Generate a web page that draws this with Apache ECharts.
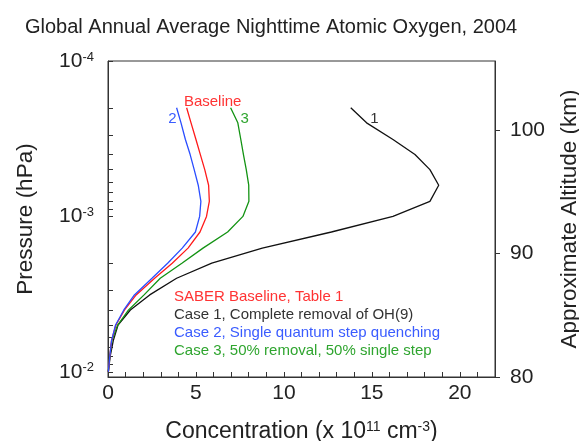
<!DOCTYPE html>
<html>
<head>
<meta charset="utf-8">
<script src="https://cdn.jsdelivr.net/npm/echarts@6/dist/echarts.min.js"></script>
<style>
    html, body { margin: 0; padding: 0; background: #fff; }
    #chart { width: 579px; height: 441px; }
</style>
</head>
<body>
<div id="chart"></div>
<script>
    // pressure levels (hPa) shared by all curves
    var pressure = [2.0e-4, 2.5e-4, 3.2e-4, 4.0e-4, 5.0e-4, 6.3e-4, 8.0e-4, 1.0e-3, 1.26e-3, 1.6e-3,
        2.0e-3, 2.5e-3, 3.2e-3, 4.0e-3, 5.0e-3, 6.3e-3, 8.0e-3, 1.0e-2];
    // concentration, x 10^11 cm^-3
    var baseline = [4.47, 4.72, 5.0, 5.25, 5.5, 5.72, 5.76, 5.6, 5.23, 4.55, 3.65, 2.65, 1.6, 0.94, 0.45, 0.2, 0.1, 0.02];
    var case1 = [13.8, 14.7, 16.2, 17.45, 18.3, 18.8, 18.3, 16.2, 12.7, 8.77, 5.9, 3.9, 2.37, 1.27, 0.57, 0.3, 0.12, 0.02];
    var case2 = [3.9, 4.15, 4.4, 4.67, 4.9, 5.13, 5.28, 5.21, 4.97, 4.22, 3.39, 2.5, 1.5, 0.9, 0.43, 0.2, 0.1, 0.02];
    var case3 = [6.97, 7.38, 7.55, 7.7, 7.86, 8.0, 8.01, 7.67, 6.8, 5.4, 4.2, 2.97, 2.05, 1.17, 0.55, 0.22, 0.1, 0.02];

    var xLabels = [0, 5, 10, 15, 20];
    var pressureDecades = [-4, -3, -2];
    var altTicks = [80, 90, 100];
    var minorSteps = [1, 2, 3, 4, 5, 6, 7, 8, 9];

    var FONT = 'Liberation Sans, Arial, Helvetica, sans-serif';
    var AXIS = '#333';
    // pressure axis runs in log10 space, top 10^-4 down to ~1.08 x 10^-2
    var yTop = -4, yBottom = Math.log10(1.08e-2);

    function pairs(xs) {
        return xs.map(function (v, i) { return [v, Math.log10(pressure[i])]; });
    }

    // tick marks at 1..9 x 10^n plus 10^-2
    var pTicks = [];
    [-4, -3].forEach(function (d) {
        minorSteps.forEach(function (m) { pTicks.push(d + Math.log10(m)); });
    });
    pTicks.push(-2);

    function tag(text, coord, color) {
        return {
            symbol: 'circle', symbolSize: 0, silent: true,
            label: { show: true, position: 'inside', formatter: text, color: color, fontSize: 15, fontFamily: FONT },
            data: [{ coord: [coord[0], Math.log10(coord[1])] }]
        };
    }

    function line(name, xs, color, label) {
        return {
            name: name, type: 'line', data: pairs(xs),
            showSymbol: false, symbol: 'none',
            color: color,
            lineStyle: { color: color, width: 1.3 },
            markPoint: label
        };
    }

    var chart = echarts.init(document.getElementById('chart'));

    chart.setOption({
        animation: false,
        title: {
            text: 'Global Annual Average Nighttime Atomic Oxygen, 2004',
            left: 20, top: 12,
            textStyle: { fontSize: 20, fontWeight: 'normal', color: '#222', fontFamily: FONT }
        },
        legend: {
            orient: 'vertical', left: 169, top: 289, padding: 0,
            itemWidth: 0, itemHeight: 0, itemGap: 3, icon: 'rect',
            selectedMode: false,
            textStyle: { fontSize: 15, fontFamily: FONT },
            data: [
                { name: 'SABER Baseline, Table 1', textStyle: { color: '#ff3333' } },
                { name: 'Case 1, Complete removal of OH(9)', textStyle: { color: '#333' } },
                { name: 'Case 2, Single quantum step quenching', textStyle: { color: '#3a5cff' } },
                { name: 'Case 3, 50% removal, 50% single step', textStyle: { color: '#2fa52f' } }
            ]
        },
        grid: {
            left: 108, right: 84, top: 61, bottom: 64,
            outerBoundsMode: 'none', containLabel: false,
            show: true, borderColor: AXIS, borderWidth: 1, backgroundColor: 'transparent'
        },
        xAxis: {
            type: 'value', position: 'bottom', min: 0, max: 22, interval: 1,
            name: '{a|Concentration (x 10}{s|11}{a| cm}{s|-3}{a|)}',
            nameLocation: 'middle', nameGap: 43,
            nameTextStyle: {
                rich: {
                    a: { fontSize: 23, color: '#222', fontFamily: FONT, verticalAlign: 'bottom' },
                    s: { fontSize: 14, color: '#222', fontFamily: FONT, verticalAlign: 'top' }
                }
            },
            axisLine: { show: true, onZero: false, lineStyle: { color: AXIS } },
            axisTick: { show: true, inside: true, length: 5, lineStyle: { color: AXIS } },
            axisLabel: { customValues: xLabels, margin: 6, fontSize: 21, color: '#222', fontFamily: FONT },
            splitLine: { show: false }
        },
        yAxis: [
            {
                type: 'value', position: 'left', inverse: true, min: yTop, max: yBottom,
                name: 'Pressure (hPa)', nameLocation: 'middle', nameGap: 71,
                nameTextStyle: { fontSize: 22.5, color: '#222', fontFamily: FONT },
                axisLine: { show: true, onZero: false, lineStyle: { color: AXIS } },
                axisTick: { show: true, inside: true, length: 5, customValues: pTicks, lineStyle: { color: AXIS } },
                axisLabel: {
                    customValues: pressureDecades,
                    margin: 14,
                    formatter: function (v) { return '{b|10}{s|' + Math.round(v) + '}'; },
                    rich: {
                        b: { fontSize: 21, color: '#222', fontFamily: FONT, verticalAlign: 'bottom' },
                        s: { fontSize: 13, color: '#222', fontFamily: FONT, verticalAlign: 'top' }
                    }
                },
                splitLine: { show: false }
            },
            {
                type: 'value', position: 'right', min: 80, max: 105.6, interval: 10,
                name: 'Approximate Altitude (km)', nameLocation: 'middle', nameGap: 63, nameRotate: 90,
                nameTextStyle: { fontSize: 22.5, color: '#222', fontFamily: FONT },
                axisLine: { show: true, onZero: false, lineStyle: { color: AXIS } },
                axisTick: { show: true, inside: false, length: 5, customValues: altTicks, lineStyle: { color: AXIS } },
                axisLabel: { customValues: altTicks, margin: 15, fontSize: 21, color: '#222', fontFamily: FONT },
                splitLine: { show: false }
            }
        ],
        series: [
            line('Case 1, Complete removal of OH(9)', case1, '#111', tag('1', [15.15, 2.36e-4], '#333')),
            line('Case 3, 50% removal, 50% single step', case3, '#139313', tag('3', [7.77, 2.37e-4], '#2fa52f')),
            line('SABER Baseline, Table 1', baseline, '#ff1a1a', tag('Baseline', [5.95, 1.83e-4], '#ff3333')),
            line('Case 2, Single quantum step quenching', case2, '#2a4dff', tag('2', [3.66, 2.37e-4], '#3a5cff'))
        ]
    });
</script>
</body>
</html>
